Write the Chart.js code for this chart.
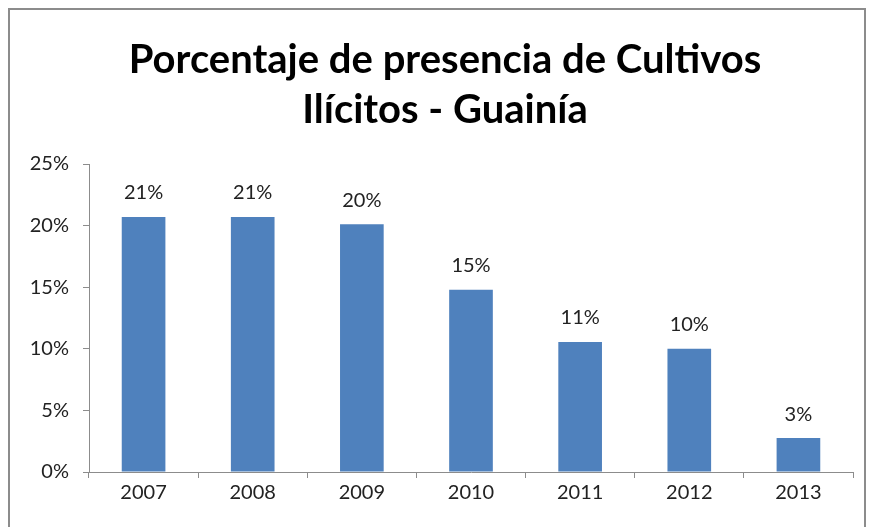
<!DOCTYPE html>
<html>
<head>
<meta charset="utf-8">
<script src="https://cdn.jsdelivr.net/npm/chart.js@4/dist/chart.umd.min.js"></script>
<style>
html,body{margin:0;padding:0;background:#fff;}
#wrap{position:relative;width:870px;height:527px;}
</style>
</head>
<body>
<div id="wrap"><canvas id="c" width="870" height="527"></canvas></div>
<script>
const categories = ["2007","2008","2009","2010","2011","2012","2013"];
const values = [20.7, 20.7, 20.1, 14.8, 10.55, 10.0, 2.75];
const valueLabels = ["21%","21%","20%","15%","11%","10%","3%"];
const yTicks = [0,5,10,15,20,25];
const titleLines = ["Porcentaje de presencia de Cultivos","Ilícitos - Guainía"];

const FONT = "Lato, 'Open Sans', sans-serif";

const frame = {
  id:'frame',
  beforeDraw(chart){
    const ctx = chart.ctx;
    ctx.save();
    ctx.fillStyle='#fff';
    ctx.fillRect(0,0,chart.width,chart.height);
    ctx.strokeStyle='#8c8c8c';
    ctx.lineWidth=2;
    ctx.beginPath();
    ctx.moveTo(9,527);ctx.lineTo(9,9);ctx.lineTo(865,9);ctx.lineTo(865,527);
    ctx.stroke();
    ctx.font = "bold 40px " + FONT;
    ctx.fillStyle = '#000';
    ctx.textAlign = 'center';
    ctx.textBaseline = 'middle';
    titleLines.forEach((t,i)=>ctx.fillText(t, 445, 60 + i*50));
    ctx.restore();
  }
};
const dataLabels = {
  id:'dataLabels',
  afterDatasetsDraw(chart){
    const ctx = chart.ctx;
    const meta = chart.getDatasetMeta(0);
    ctx.save();
    ctx.font = "20px " + FONT;
    ctx.fillStyle='#222';
    ctx.textAlign='center';
    ctx.textBaseline='bottom';
    meta.data.forEach((bar,i)=>{
      ctx.fillText(valueLabels[i], bar.x, bar.y - 14);
    });
    ctx.restore();
  }
};

new Chart(document.getElementById('c'), {
  type:'bar',
  data:{
    labels:categories,
    datasets:[{data:values, backgroundColor:'#4F81BD', borderWidth:0,
      categoryPercentage:1, barPercentage:0.4}]
  },
  options:{
    responsive:false,
    animation:false,
    layout:{padding:{left:0,right:17,top:164,bottom:0}},
    plugins:{
      legend:{display:false},
      tooltip:{enabled:false},
      title:{display:false}
    },
    scales:{
      x:{
        grid:{display:true, drawOnChartArea:false, drawTicks:true, tickLength:6, offset:true, color:'#8c8c8c'},
        border:{display:true,color:'#8c8c8c'},
        ticks:{color:'#222', font:{family:FONT,size:20}, padding:3},
        afterFit(s){ s.height = 55; }
      },
      y:{
        min:0,max:25,
        afterBuildTicks(s){ s.ticks = yTicks.map(v=>({value:v})); },
        grid:{display:true, drawOnChartArea:false, drawTicks:true, tickLength:6, color:'#8c8c8c'},
        border:{display:true,color:'#8c8c8c'},
        ticks:{color:'#222', font:{family:FONT,size:20}, padding:14, callback:v=>v+'%'},
        afterFit(s){ s.width = 89; }
      }
    }
  },
  plugins:[frame,dataLabels]
});
</script>
</body>
</html>
